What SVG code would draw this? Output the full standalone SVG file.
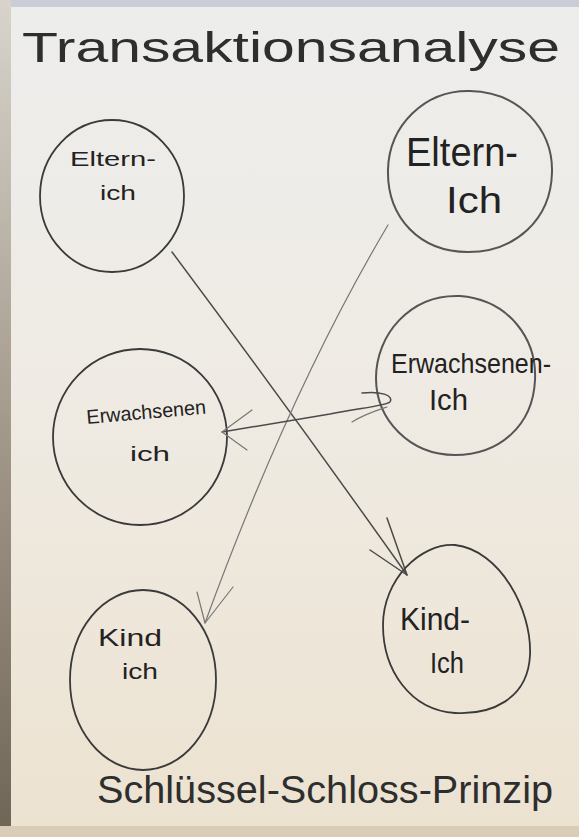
<svg xmlns="http://www.w3.org/2000/svg" width="579" height="837" viewBox="0 0 579 837">
<defs>
<linearGradient id="paper" x1="0" y1="0" x2="0" y2="1">
<stop offset="0" stop-color="#ededec"/>
<stop offset="0.45" stop-color="#efebe4"/>
<stop offset="1" stop-color="#ece2d0"/>
</linearGradient>
<linearGradient id="edge" x1="0" y1="0" x2="0" y2="1">
<stop offset="0" stop-color="#d8d4cc"/>
<stop offset="0.6" stop-color="#9a8f80"/>
<stop offset="1" stop-color="#6f6556"/>
</linearGradient>
</defs>
<style>
.ring{fill:none;stroke:#3a3a3a;stroke-width:1.8;stroke-linecap:round}
.ring2{fill:none;stroke:#555;stroke-width:2;stroke-linecap:round}
.con{fill:none;stroke:#4a4a4a;stroke-width:1.5;stroke-linecap:round;stroke-linejoin:round}
.lt{fill:none;stroke:#777;stroke-width:1.2;stroke-linecap:round;stroke-linejoin:round}
.hw{font-family:"Liberation Sans","DejaVu Sans",sans-serif;fill:#222}
.big{font-family:"Liberation Sans","DejaVu Sans",sans-serif;fill:#2e2e2e}
</style>
<rect width="579" height="837" fill="url(#paper)"/>
<rect x="0" y="0" width="579" height="7" fill="#c9ced6"/>
<rect x="0" y="0" width="11" height="837" fill="url(#edge)"/>
<rect x="0" y="826" width="579" height="11" fill="#d9cdb8"/>

<g id="title">
<text class="big" x="22" y="62" font-size="42" textLength="538" lengthAdjust="spacingAndGlyphs">Transaktionsanalyse</text>
</g>

<g id="eltern-ich-links">
<ellipse class="ring" cx="112" cy="196" rx="72" ry="76"/>
<text class="hw" x="70" y="166" font-size="20" textLength="86" lengthAdjust="spacingAndGlyphs">Eltern-</text>
<text class="hw" x="100" y="200" font-size="20" textLength="36" lengthAdjust="spacingAndGlyphs">ich</text>
</g>

<g id="eltern-ich-rechts">
<path class="ring2" d="M470 91 C520 92 553 130 552 172 C551 220 515 252 468 252 C420 252 387 218 388 170 C389 125 425 90 470 91 Z"/>
<text class="hw" x="406" y="166" font-size="40" textLength="112" lengthAdjust="spacingAndGlyphs" fill="#333">Eltern-</text>
<text class="hw" x="446" y="213" font-size="36" textLength="56" lengthAdjust="spacingAndGlyphs" fill="#333">Ich</text>
</g>

<g id="erwachsenen-ich-links">
<ellipse class="ring" cx="140" cy="437" rx="87" ry="88"/>
<text class="hw" x="87" y="424" font-size="20" textLength="120" lengthAdjust="spacingAndGlyphs" transform="rotate(-5 87 424)">Erwachsenen</text>
<text class="hw" x="130" y="461" font-size="20" textLength="40" lengthAdjust="spacingAndGlyphs">ich</text>
</g>

<g id="erwachsenen-ich-rechts">
<path class="ring2" d="M460 296 C510 300 537 340 535 380 C533 425 500 455 455 455 C410 455 376 420 376 378 C376 335 410 294 460 296 Z"/>
<text class="hw" x="391" y="373" font-size="28" textLength="160" lengthAdjust="spacingAndGlyphs" fill="#333">Erwachsenen-</text>
<text class="hw" x="429" y="410" font-size="30" textLength="39" lengthAdjust="spacingAndGlyphs" fill="#333">Ich</text>
</g>

<g id="kind-ich-links">
<ellipse class="ring" cx="143" cy="680" rx="73" ry="90"/>
<text class="hw" x="98" y="646" font-size="24" textLength="64" lengthAdjust="spacingAndGlyphs">Kind</text>
<text class="hw" x="122" y="679" font-size="22" textLength="36" lengthAdjust="spacingAndGlyphs">ich</text>
</g>

<g id="kind-ich-rechts">
<path class="ring" d="M455 545 C500 550 532 610 530 655 C528 700 490 715 455 713 C410 710 383 670 383 625 C383 580 420 543 455 545 Z"/>
<text class="hw" x="400" y="630" font-size="32" textLength="70" lengthAdjust="spacingAndGlyphs">Kind-</text>
<text class="hw" x="430" y="673" font-size="30" textLength="34" lengthAdjust="spacingAndGlyphs">Ich</text>
</g>

<g id="connectors">
<path class="con" d="M172 252 Q290 410 407 575"/>
<path class="con" d="M387 518 L407 575 L370 550"/>
<path class="lt" d="M388 225 Q290 390 205 623"/>
<path class="lt" d="M197 592 L205 623 L233 587"/>
<path class="con" d="M362 393 C380 391 394 395 390 402 C385 406 360 408 330 414 L222 432"/>
<path class="lt" d="M352 422 C365 414 378 410 387 407"/>
<path class="lt" d="M252 410 L222 432 L247 450"/>
</g>

<g id="footer">
<text class="big" x="97" y="803" font-size="38" textLength="456" lengthAdjust="spacingAndGlyphs">Schlüssel-Schloss-Prinzip</text>
</g>
</svg>
